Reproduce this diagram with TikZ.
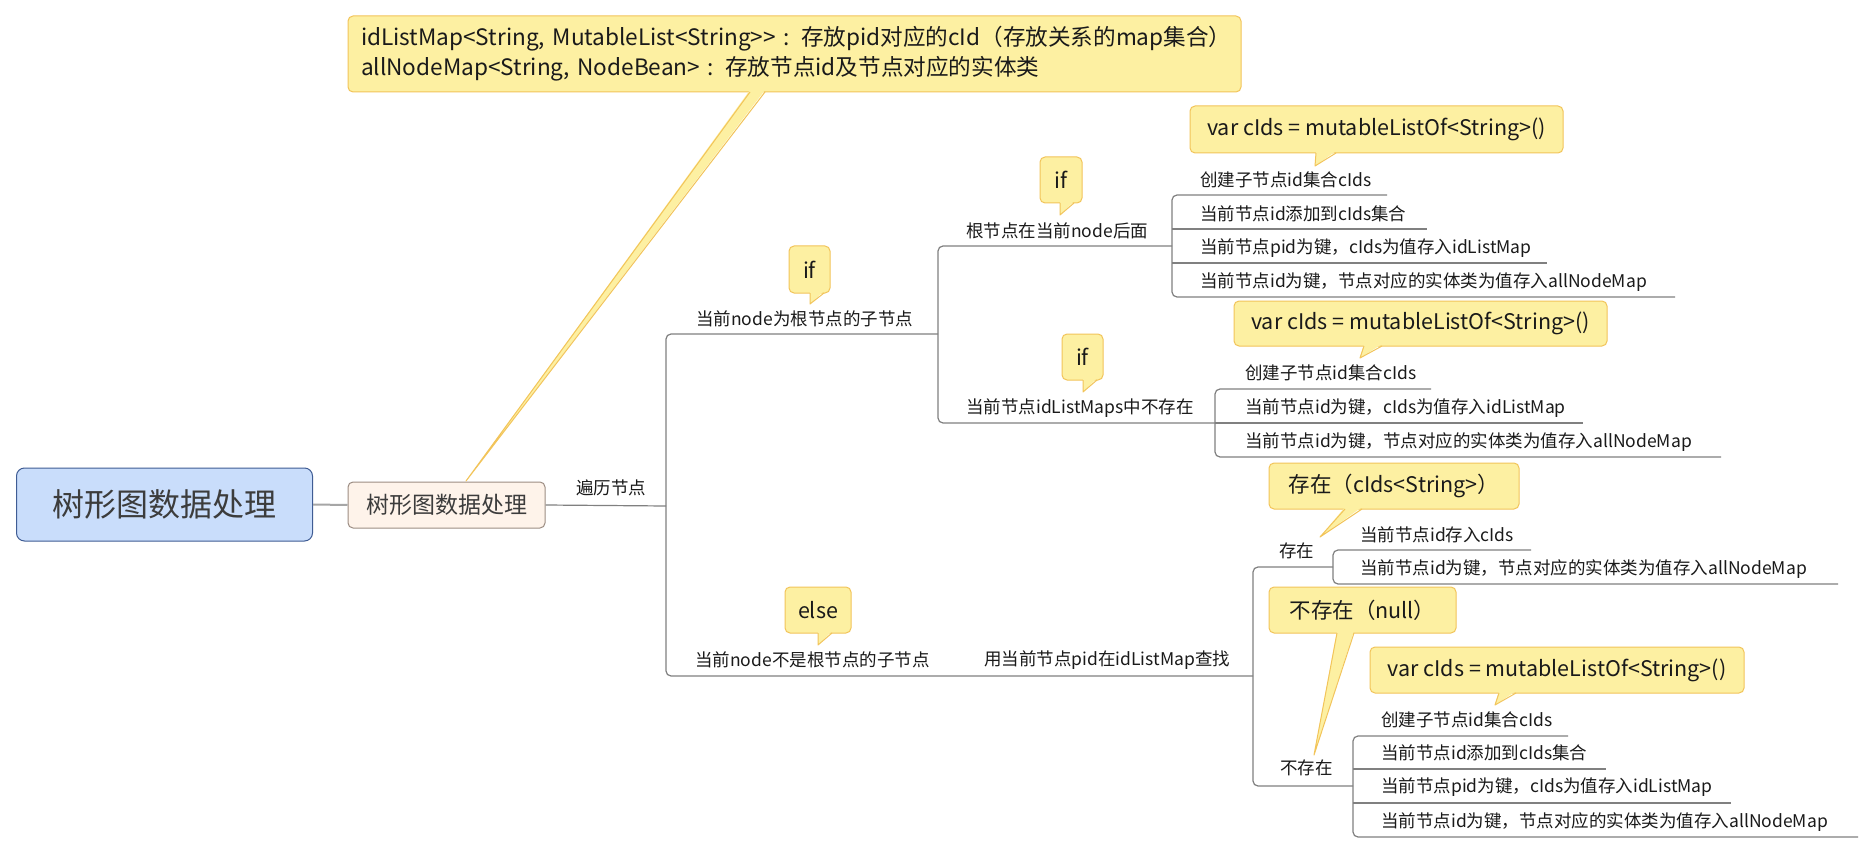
\documentclass[tikz,border=0pt]{standalone}
\usepackage{fontspec}
\setmainfont{Noto Sans CJK SC}
\definecolor{cfill}{HTML}{FDF0A2}
\definecolor{cline}{HTML}{F2C45A}
\definecolor{rootfill}{HTML}{C9DDFB}
\definecolor{rootline}{HTML}{3F5C94}
\definecolor{subfill}{HTML}{FEF3EA}
\definecolor{subline}{HTML}{9C8D83}
\definecolor{connc}{HTML}{808080}
\definecolor{txt}{HTML}{1A1A1A}
\definecolor{bigtxt}{HTML}{3C3C3C}
\newcommand\mytail[5]{%
  \fill[cfill] (#1,{#3-2}) -- (#4,#5) -- (#2,{#3-2}) -- cycle;
  \draw[cline, line width=1pt, line join=round] (#1,#3) -- (#4,#5) -- (#2,#3);}
\begin{document}
\begin{tikzpicture}[x=1pt,y=-1pt,
  conn/.style={draw=connc, line width=1.2pt, rounded corners=5pt},
  lbl/.style={anchor=west, inner sep=0pt, font=\fontsize{17.5}{20}\selectfont, text=txt},
  callbox/.style={draw=cline, fill=cfill, line width=1pt, rounded corners=5pt, inner sep=0pt, font=\fontsize{21.5}{24}\selectfont, text=txt}]
\fill[white] (0,0) rectangle (1874,853);
\useasboundingbox (0,0) rectangle (1874,853);

% main topics
\node[draw=rootline, fill=rootfill, rounded corners=8pt, line width=1pt, minimum width=296pt, minimum height=73pt, inner sep=0pt, font=\fontsize{32}{36}\selectfont, text=bigtxt] (root) at (164.5,504.5) {树形图数据处理};
\node[draw=subline, fill=subfill, rounded corners=5pt, line width=1pt, minimum width=197pt, minimum height=46pt, inner sep=0pt, font=\fontsize{23}{26}\selectfont, text=bigtxt] (sub) at (446.5,505) {树形图数据处理};
\draw[draw=connc!70, line width=2pt] (root.east) -- (sub.west);

% labels
\node[lbl] (traverse) at (576,488) {遍历节点};
\node[lbl] (b1) at (696,319) {当前node为根节点的子节点};
\node[lbl] (b1a) at (966,231) {根节点在当前node后面};
\node[lbl] (a1) at (1200,180) {创建子节点id集合cIds};
\node[lbl] (a2) at (1200,214) {当前节点id添加到cIds集合};
\node[lbl] (a3) at (1200,248) {当前节点pid为键，cIds为值存入idListMap};
\node[lbl] (a4) at (1200,282) {当前节点id为键，节点对应的实体类为值存入allNodeMap};
\node[lbl] (b1b) at (966,408) {当前节点idListMaps中不存在};
\node[lbl] (c1) at (1245,373) {创建子节点id集合cIds};
\node[lbl] (c2) at (1245,408) {当前节点id为键，cIds为值存入idListMap};
\node[lbl] (c3) at (1245,442) {当前节点id为键，节点对应的实体类为值存入allNodeMap};
\node[lbl] (b2) at (695,660) {当前node不是根节点的子节点};
\node[lbl] (b2x) at (984,660) {用当前节点pid在idListMap查找};
\node[lbl] (ex) at (1279,551) {存在};
\node[lbl] (e1) at (1360,535) {当前节点id存入cIds};
\node[lbl] (e2) at (1360,569) {当前节点id为键，节点对应的实体类为值存入allNodeMap};
\node[lbl] (nx) at (1280,768) {不存在};
\node[lbl] (n1) at (1381,720) {创建子节点id集合cIds};
\node[lbl] (n2) at (1381,753) {当前节点id添加到cIds集合};
\node[lbl] (n3) at (1381,787) {当前节点pid为键，cIds为值存入idListMap};
\node[lbl] (n4) at (1381,822) {当前节点id为键，节点对应的实体类为值存入allNodeMap};

% tree connectors
\coordinate (trunk) at (666,506);
\draw[conn] (sub.east) -- (trunk);
\draw[conn] (938,334) -- (666,334) -- (666,676) -- (1253,676);
\draw[conn] (1172,246) -- (938,246) -- (938,423) -- (1215,423);
\draw[conn] (1387,195) -- (1172,195) -- (1172,297) -- (1675,297);
\draw[conn] (1172,229) -- (1427,229);
\draw[conn] (1172,263) -- (1547,263);
\draw[conn] (1431,389) -- (1215,389) -- (1215,457) -- (1721,457);
\draw[conn] (1215,423) -- (1583,423);
\draw[conn] (1333,567) -- (1253,567) -- (1253,786) -- (1353,786);
\draw[conn] (1531,550) -- (1333,550) -- (1333,584) -- (1838,584);
\draw[conn] (1568,736) -- (1353,736) -- (1353,837) -- (1858,837);
\draw[conn] (1353,769) -- (1606,769);
\draw[conn] (1353,803) -- (1731,803);

% callouts
\node[callbox, minimum width=893pt, minimum height=76pt, text width=867pt, align=left, font=\fontsize{22.6}{30}\selectfont] (note) at (794.5,54) {\mbox{idListMap<String, MutableList<String>{}> : 存放pid对应的cId（存放关系的map集合）}\\\mbox{allNodeMap<String, NodeBean> : 存放节点id及节点对应的实体类}};
\mytail{750}{765}{92}{466}{481}
\node[callbox, minimum width=373pt, minimum height=47pt] (var1) at (1376.5,129.5) {var cIds = mutableListOf<String>()};
\mytail{1316}{1336}{153}{1315}{166}
\node[callbox, minimum width=42pt, minimum height=46pt] (if1a) at (1061,180) {if};
\mytail{1060}{1074}{203}{1060}{215}
\node[callbox, minimum width=41pt, minimum height=47pt] (if1) at (809.5,269.5) {if};
\mytail{810}{824}{293}{810}{304}
\node[callbox, minimum width=373pt, minimum height=45pt] (var2) at (1420.5,323.5) {var cIds = mutableListOf<String>()};
\mytail{1364}{1382}{346}{1360}{358}
\node[callbox, minimum width=41pt, minimum height=46pt] (if2) at (1082.5,357) {if};
\mytail{1083}{1097}{380}{1083}{392}
\node[callbox, minimum width=66pt, minimum height=46pt] (else) at (818,610) {else};
\mytail{818}{832}{633}{818}{645}
\node[callbox, minimum width=250pt, minimum height=46pt] (exists) at (1394,486) {存在（cIds<String>）};
\mytail{1345}{1362}{509}{1320}{537}
\node[callbox, minimum width=187pt, minimum height=46pt] (notexists) at (1362.5,610) {不存在（null）};
\mytail{1337}{1354}{633}{1314}{755}
\node[callbox, minimum width=374pt, minimum height=46pt] (var3) at (1557,670) {var cIds = mutableListOf<String>()};
\mytail{1499}{1516}{693}{1495}{705}
\end{tikzpicture}
\end{document}
